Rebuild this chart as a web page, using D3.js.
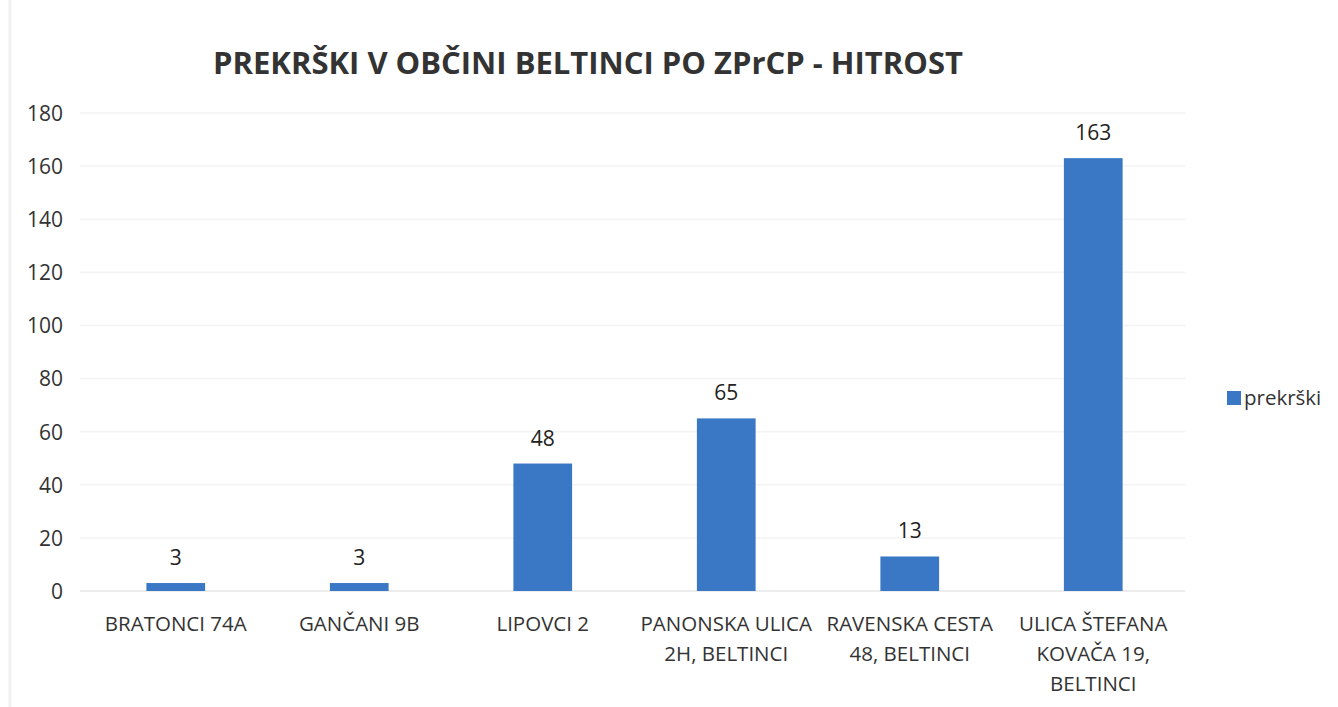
<!DOCTYPE html>
<html>
<head>
<meta charset="utf-8">
<script src="https://cdn.jsdelivr.net/npm/d3@7"></script>
<style>
  body { margin: 0; background: #fff; }
  svg text { font-family: "Open Sans", "Noto Sans", sans-serif; }
</style>
</head>
<body>
<div id="chart"></div>
<script>
const categories = [
    ["BRATONCI 74A"],
    ["GANČANI 9B"],
    ["LIPOVCI 2"],
    ["PANONSKA ULICA", "2H, BELTINCI"],
    ["RAVENSKA CESTA", "48, BELTINCI"],
    ["ULICA ŠTEFANA", "KOVAČA 19,", "BELTINCI"]
];
const values = [3, 3, 48, 65, 13, 163];
const yTicks = [0, 20, 40, 60, 80, 100, 120, 140, 160, 180];
const seriesName = "prekrški";
const title = "PREKRŠKI V OBČINI BELTINCI PO ZPrCP - HITROST";

const w = 1338, h = 707;
const margin = { top: 113, right: 153, bottom: 116, left: 84 };
const barColor = "#3a78c5";

const svg = d3.select("#chart").append("svg")
    .attr("width", w)
    .attr("height", h);

// faint page edge on the left
svg.append("line")
    .attr("x1", 10).attr("x2", 10).attr("y1", 0).attr("y2", h)
    .style("stroke", "#f0f0f0").style("stroke-width", 3);

const x = d3.scaleBand()
    .domain(d3.range(categories.length))
    .range([margin.left, w - margin.right])
    .paddingInner(0.68)
    .paddingOuter(0.34);

const y = d3.scaleLinear()
    .domain([0, 180])
    .range([h - margin.bottom, margin.top]);

// gridlines
svg.append("g")
    .selectAll("line")
    .data(yTicks)
    .enter()
    .append("line")
    .attr("x1", margin.left - 4)
    .attr("x2", w - margin.right)
    .attr("y1", d => y(d))
    .attr("y2", d => y(d))
    .style("stroke", d => d === 0 ? "#e6e6e6" : "#f3f3f3")
    .style("stroke-width", 1.5);

// y axis labels
const yAxis = d3.axisLeft(y).tickValues(yTicks).tickSize(0).tickPadding(0);
svg.append("g")
    .attr("transform", `translate(${63},0)`)
    .call(yAxis)
    .call(g => g.select(".domain").remove())
    .selectAll("text")
    .style("font-size", "21px")
    .style("fill", "#333")
    .attr("dy", "0.35em");

// bars
svg.selectAll(".bar")
    .data(values)
    .enter()
    .append("rect")
    .attr("class", "bar")
    .attr("x", (d, i) => x(i))
    .attr("width", x.bandwidth())
    .attr("y", d => y(d))
    .attr("height", d => y(0) - y(d))
    .style("fill", barColor);

// value labels
svg.selectAll(".val")
    .data(values)
    .enter()
    .append("text")
    .attr("class", "val")
    .attr("x", (d, i) => x(i) + x.bandwidth() / 2)
    .attr("y", d => y(d) - 18)
    .attr("text-anchor", "middle")
    .style("font-size", "21px")
    .style("fill", "#222")
    .text(d => d);

// category labels
const xAxis = d3.axisBottom(x).tickSize(0).tickFormat("");
const xg = svg.append("g")
    .attr("transform", `translate(0,${y(0)})`)
    .call(xAxis);
xg.select(".domain").remove();
xg.selectAll(".tick").each(function (d) {
    const t = d3.select(this).append("text")
        .attr("text-anchor", "middle")
        .style("font-size", "20.5px")
        .style("fill", "#333");
    categories[d].forEach((line, k) => {
        t.append("tspan").attr("x", 0).attr("y", 40 + k * 30).text(line);
    });
});

// title
svg.append("text")
    .attr("x", 588)
    .attr("y", 74)
    .attr("text-anchor", "middle")
    .style("font-size", "31px")
    .style("font-weight", "bold")
    .style("fill", "#333")
    .text(title);

// legend
const lg = svg.append("g").attr("transform", "translate(1227,398)");
lg.append("rect")
    .attr("x", 0).attr("y", -7).attr("width", 14).attr("height", 14)
    .style("fill", barColor);
lg.append("text")
    .attr("x", 17).attr("y", 0).attr("dy", "0.35em")
    .style("font-size", "20.5px")
    .style("fill", "#333")
    .text(seriesName);
</script>
</body>
</html>
